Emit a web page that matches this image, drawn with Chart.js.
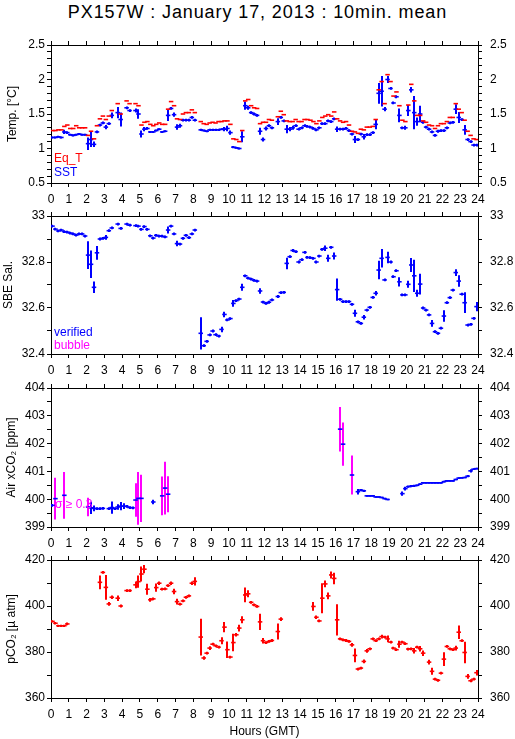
<!DOCTYPE html>
<html>
<head>
<meta charset="utf-8">
<script src="https://cdn.jsdelivr.net/npm/chart.js@4.4.1/dist/chart.umd.min.js"></script>
<style>
  body { margin: 0; background: #fff; }
  #wrap { position: relative; width: 515px; height: 739px; overflow: hidden; background: #fff; }
  #wrap canvas { position: absolute; left: 0; }
  #title {
    position: absolute; top: 0; left: 0; width: 515px; text-align: center;
    font: 18px "Liberation Sans", Arial, Helvetica, sans-serif;
    letter-spacing: 0.9px; line-height: 24px; color: #000;
  }
</style>
</head>
<body>
<div id="wrap">
  <div id="title">PX157W : January 17, 2013 : 10min. mean</div>
  <canvas id="pTemp"></canvas>
  <canvas id="pSal"></canvas>
  <canvas id="pAir"></canvas>
  <canvas id="pCo2"></canvas>
</div>
<script>
"use strict";

// 10-minute means, slot i covers minutes i*10 .. i*10+10 (144 slots per day)
var SLOT_MIN = 10;

var eqT = [
  1.26,1.26,1.27,1.27,1.32,1.34,1.29,1.29,1.33,1.30,1.30,1.30,
  1.19,1.25,1.14,1.33,1.43,1.47,1.42,1.47,1.55,null,1.65,1.50,
  null,1.69,1.65,null,1.65,1.62,1.34,1.38,1.39,1.35,1.33,1.35,
  1.37,1.35,1.35,1.57,1.68,1.62,1.43,1.42,1.50,1.52,1.52,1.56,
  1.52,null,1.39,1.36,1.35,1.37,1.38,1.37,1.39,1.39,1.40,1.40,
  1.35,1.14,1.13,1.10,1.26,1.69,1.71,1.62,1.59,1.58,1.36,1.38,
  1.38,1.42,1.41,null,1.46,1.54,1.49,1.40,1.39,1.39,1.42,1.39,
  1.39,1.42,1.42,1.41,1.39,1.36,1.40,1.45,1.47,1.49,1.47,1.53,
  1.43,1.40,1.38,1.39,1.34,1.25,1.24,1.22,1.28,1.27,1.31,1.31,
  1.32,1.42,1.85,1.97,1.65,2.07,1.97,1.76,1.82,1.62,1.41,1.39,
  1.63,1.93,1.69,1.48,1.48,1.40,1.38,1.34,1.33,1.29,1.33,1.36,
  1.36,1.39,1.45,1.45,1.65,1.57,1.52,1.41,1.25,1.19,1.14,1.13
];

var sst = [
  1.16,1.16,1.17,1.16,1.24,1.23,1.20,1.19,1.20,1.21,1.20,1.20,
  1.07,1.13,1.06,1.24,1.34,1.37,1.31,1.36,1.48,null,1.52,1.42,
  null,1.59,1.55,null,1.55,1.50,1.21,1.28,1.29,1.24,1.24,1.26,
  1.28,1.24,1.25,1.48,1.58,1.49,1.31,1.33,1.41,1.41,1.41,1.45,
  1.41,null,1.27,1.26,1.25,1.27,1.27,1.27,1.27,1.28,1.28,1.29,
  1.23,1.02,1.01,1.00,1.17,1.62,1.59,1.52,1.50,1.48,1.25,1.13,
  1.29,1.33,1.30,null,1.39,1.45,1.40,1.28,1.28,1.30,1.33,1.28,
  1.30,1.33,1.32,1.31,1.29,1.27,1.30,1.36,1.36,1.40,1.39,1.43,
  1.28,1.28,1.28,1.29,1.26,1.21,1.13,1.13,1.21,1.17,1.20,1.20,
  1.23,1.35,1.80,1.83,1.57,2.00,1.87,1.66,1.75,1.48,1.30,1.30,
  1.55,1.85,1.52,1.39,1.50,1.38,1.31,1.28,1.24,1.19,1.25,1.26,
  1.26,1.30,1.37,1.38,1.57,1.45,1.42,1.27,1.13,1.10,1.05,1.05
];

var sstSd = [
  .015,.015,.015,.015,.03,.02,.015,.015,.015,.015,.015,.015,
  .09,.11,.04,.02,.02,.02,.03,.02,.04,null,.08,.10,
  null,.02,.02,null,.03,.07,.05,.03,.02,.015,.015,.015,
  .015,.015,.015,.08,.02,.03,.04,.03,.02,.02,.02,.02,
  .02,null,.015,.015,.015,.015,.015,.015,.015,.015,.03,.04,
  .03,.015,.015,.015,.08,.06,.03,.02,.02,.02,.05,.03,
  .03,.02,.02,null,.05,.02,.02,.06,.03,.03,.02,.02,
  .02,.02,.02,.02,.02,.02,.02,.02,.02,.02,.02,.02,
  .04,.02,.02,.02,.02,.02,.05,.02,.02,.04,.02,.02,
  .02,.07,.15,.22,.03,.05,.02,.02,.02,.10,.02,.03,
  .08,.04,.24,.06,.12,.02,.02,.02,.02,.02,.02,.02,
  .02,.02,.02,.02,.07,.08,.02,.07,.02,.02,.02,.02
];

var sal = [
  32.956,32.943,32.935,32.939,32.932,32.930,32.926,32.922,32.917,32.922,32.922,32.913,
  32.830,32.790,32.690,32.840,32.900,32.903,32.907,32.936,32.948,null,32.965,32.946,
  null,32.965,32.960,null,32.958,32.956,32.942,32.954,32.942,32.914,32.904,32.916,
  32.913,32.912,32.909,32.939,32.956,32.922,32.880,32.878,32.903,32.916,32.906,32.922,
  32.939,null,32.490,32.436,32.455,32.483,32.500,32.484,32.478,32.507,32.572,32.548,
  32.554,32.620,32.632,32.639,32.690,32.740,32.730,32.726,32.720,32.717,32.674,32.626,
  32.620,32.625,32.635,null,32.650,32.667,32.668,32.794,32.823,32.850,32.845,32.800,
  32.810,32.842,32.820,32.819,32.816,32.800,32.826,32.855,32.860,32.816,32.864,32.826,
  32.680,32.638,32.628,32.628,32.628,32.616,32.577,32.540,32.533,32.560,32.591,32.603,
  32.646,32.664,32.765,32.816,32.722,32.820,32.800,32.736,32.762,32.714,32.657,32.657,
  32.703,32.787,32.740,32.664,32.704,32.600,32.591,32.570,32.533,32.497,32.490,32.512,
  32.565,32.623,32.645,32.678,32.754,32.717,32.660,32.623,32.526,32.529,32.555,32.606
];

var salSd = [
  .006,.006,.006,.006,.006,.006,.006,.006,.006,.006,.006,.006,
  .06,.06,.025,.03,.006,.006,.01,.006,.006,null,.006,.006,
  null,.006,.006,null,.006,.006,.006,.006,.006,.006,.006,.006,
  .006,.006,.006,.015,.006,.006,.012,.006,.006,.006,.006,.006,
  .006,null,.07,.006,.006,.006,.006,.006,.006,.012,.012,.006,
  .006,.015,.006,.006,.015,.006,.006,.006,.006,.006,.012,.006,
  .006,.006,.006,null,.006,.006,.006,.025,.006,.006,.006,.006,
  .006,.006,.006,.006,.006,.006,.006,.006,.012,.015,.006,.015,
  .048,.006,.006,.006,.006,.006,.015,.006,.006,.01,.006,.006,
  .006,.01,.04,.04,.006,.025,.006,.006,.006,.02,.006,.006,
  .015,.03,.07,.015,.045,.006,.006,.006,.015,.006,.006,.006,
  .025,.006,.006,.006,.015,.025,.006,.045,.006,.006,.006,.02
];

var airXco2 = [
  399.78,400.02,null,null,400.14,null,null,null,null,null,null,null,
  399.72,399.69,399.67,399.66,399.66,399.67,null,399.66,399.70,399.66,399.72,399.75,
  399.75,399.74,399.70,399.69,399.97,400.03,400.03,null,null,null,399.90,null,
  null,400.12,400.40,400.18,null,null,null,null,null,null,null,null,
  null,null,null,null,null,null,null,null,null,null,null,null,
  null,null,null,null,null,null,null,null,null,null,null,null,
  null,null,null,null,null,null,null,null,null,null,null,null,
  null,null,null,null,null,null,null,null,null,null,null,null,
  null,402.52,401.98,null,null,400.87,null,400.27,400.33,400.30,400.12,400.12,
  400.12,400.08,400.08,400.06,400.02,399.99,null,null,null,null,400.20,400.38,
  400.45,400.47,400.48,400.50,400.54,400.59,400.59,400.59,400.59,400.59,400.59,400.59,
  400.63,400.66,400.66,400.66,400.71,400.76,400.77,400.78,400.83,401.02,401.08,401.10
];

var airSd = [
  .05,.75,null,null,.84,null,null,null,null,null,null,null,
  .33,.22,.10,.05,.05,.05,null,.05,.22,.05,.10,.15,
  .10,.05,.05,.05,.60,.95,.85,null,null,null,.08,null,
  null,.70,.95,.65,null,null,null,null,null,null,null,null,
  null,null,null,null,null,null,null,null,null,null,null,null,
  null,null,null,null,null,null,null,null,null,null,null,null,
  null,null,null,null,null,null,null,null,null,null,null,null,
  null,null,null,null,null,null,null,null,null,null,null,null,
  null,.80,.78,null,null,.70,null,.10,.04,.04,.03,.03,
  .03,.03,.03,.03,.03,.03,null,null,null,null,.08,.07,
  .04,.04,.04,.03,.03,.03,.03,.03,.03,.03,.03,.03,
  .03,.03,.03,.03,.03,.03,.03,.03,.04,.06,.03,.03
];

var pco2 = [
  393.3,392.5,391.4,391.4,391.4,392.2,null,null,null,null,null,null,
  null,null,null,null,410.3,414.6,408.1,400.9,403.8,null,403.4,400.0,
  null,406.7,406.7,null,409.2,410.6,413.9,416.0,407.3,402.7,403.1,408.0,
  409.9,407.3,407.4,408.9,409.9,406.3,401.9,400.8,402.2,403.8,404.4,409.9,
  410.7,null,386.5,377.4,379.5,381.7,383.4,382.7,382.1,384.9,390.8,381.0,
  377.8,384.1,387.5,390.4,394.0,404.8,405.3,401.6,400.5,399.8,393.1,384.9,
  384.1,384.6,385.0,null,388.9,394.3,null,null,null,null,null,null,
  null,null,null,null,399.8,395.1,393.5,403.4,409.6,404.4,413.5,412.0,
  394.0,385.7,385.3,385.0,384.6,383.1,378.5,372.6,373.0,375.9,380.5,381.4,
  385.7,384.9,385.7,386.7,386.5,385.7,384.3,381.7,381.0,383.4,384.3,383.6,
  381.3,381.4,380.5,382.1,381.4,379.5,null,375.6,371.6,368.2,367.7,370.8,
  376.9,382.4,381.4,381.0,381.7,388.6,384.9,379.8,369.4,367.5,368.2,371.0
];

var pco2Sd = [
  .5,.5,.5,.5,.5,.6,null,null,null,null,null,null,
  null,null,null,null,3.0,.6,5.4,.8,.8,null,1.2,.6,
  null,.6,.6,null,1.5,2.7,3.3,1.8,2.4,.8,.6,1.8,
  .8,.6,.6,.6,.8,1.2,1.2,.6,.6,.6,.6,.8,
  1.8,null,8.0,.8,.6,.8,.6,.6,.6,1.5,2.2,3.6,
  .6,3.8,.8,1.5,1.5,3.2,1.5,.6,.6,.6,3.5,1.2,
  .6,.6,.6,null,3.5,.8,null,null,null,null,null,null,
  null,null,null,null,1.9,.8,.6,6.5,1.5,1.5,1.5,2.5,
  6.8,.6,.6,.6,.6,.8,3.0,.6,.6,.8,.8,.6,
  .6,.6,.6,.8,.6,1.5,.6,.6,.6,1.5,.6,.6,
  .6,.6,1.2,.6,1.2,1.2,null,1.0,1.5,.6,.6,.6,
  3.0,.6,.6,.6,1.0,2.9,.6,4.7,1.0,.6,.6,1.2
];

var BLUE = '#0000ff', RED = '#ff0000', MAGENTA = '#ff00ff';
var SIGMA_FLAG = 0.3;

Chart.defaults.font.family = '"Liberation Sans", Arial, Helvetica, sans-serif';
Chart.defaults.font.size = 12;
Chart.defaults.color = '#000';

function toPoints(values) {
  var pts = [];
  for (var i = 0; i < values.length; i++) {
    if (values[i] !== null) pts.push({ x: (i + 0.5) * SLOT_MIN / 60, y: values[i], i: i });
  }
  return pts;
}

// vertical std-dev bars, drawn under the horizontal dashes
var errorBars = {
  id: 'errorBars',
  beforeDatasetsDraw: function (chart) {
    var ctx = chart.ctx, a = chart.chartArea;
    var xs = chart.scales.x, ys = chart.scales.y;
    ctx.save();
    ctx.beginPath();
    ctx.rect(a.left, a.top, a.right - a.left, a.bottom - a.top);
    ctx.clip();
    ctx.lineWidth = 2;
    chart.data.datasets.forEach(function (ds) {
      if (!ds.sd) return;
      ds.data.forEach(function (p) {
        var s = ds.sd[p.i];
        if (s === null || s === undefined) return;
        var px = Math.round(xs.getPixelForValue(p.x));
        ctx.strokeStyle = (ds.flagColor && s >= SIGMA_FLAG) ? ds.flagColor : ds.borderColor;
        ctx.beginPath();
        ctx.moveTo(px, ys.getPixelForValue(p.y - s));
        ctx.lineTo(px, ys.getPixelForValue(p.y + s));
        ctx.stroke();
      });
    });
    ctx.restore();
  }
};

// small coloured labels inside the plot (Eq_T / SST etc.)
var notes = {
  id: 'notes',
  afterDraw: function (chart, args, opts) {
    if (!opts.items) return;
    var ctx = chart.ctx, a = chart.chartArea;
    ctx.save();
    ctx.font = '12px "Liberation Sans", Arial, sans-serif';
    ctx.textAlign = 'left';
    ctx.textBaseline = 'alphabetic';
    opts.items.forEach(function (n) {
      ctx.fillStyle = n.color;
      ctx.fillText(n.text, a.left + n.dx, a.bottom - n.dy);
    });
    ctx.restore();
  }
};

function onlyEvery(step) {
  return function (v) {
    var r = v / step;
    return Math.abs(r - Math.round(r)) < 1e-6 ? String(+v.toFixed(2)) : '';
  };
}

function xAxis(pos, h, labels, title) {
  return {
    type: 'linear', position: pos, min: 0, max: 24,
    border: { display: true, color: '#000', width: 1 },
    grid: { drawOnChartArea: false, drawTicks: true, tickLength: 4, color: '#000', lineWidth: 1 },
    ticks: { display: labels, stepSize: 1, autoSkip: false, maxRotation: 0, minRotation: 0, padding: 5, color: '#000' },
    title: title ? { display: true, text: title, color: '#000', padding: { top: 0, bottom: 0 }, font: { size: 12 } } : { display: false },
    afterFit: function (s) { s.height = h; }
  };
}

function yAxis(pos, w, min, max, step, labelStep, title, titlePad) {
  return {
    type: 'linear', position: pos, min: min, max: max,
    border: { display: true, color: '#000', width: 1 },
    grid: { drawOnChartArea: false, drawTicks: true, tickLength: 4, color: '#000', lineWidth: 1 },
    ticks: { stepSize: step, autoSkip: false, padding: pos === 'left' ? 2 : 8, color: '#000', callback: onlyEvery(labelStep) },
    title: title ? { display: true, text: title, color: '#000', padding: { top: titlePad, bottom: 0 }, font: { size: 12 } } : { display: false },
    afterFit: function (s) { s.width = w; }
  };
}

function dashSet(values, color, sd, flagColor) {
  return {
    data: toPoints(values),
    sd: sd || null,
    flagColor: flagColor || null,
    showLine: false,
    pointStyle: 'line',
    pointRadius: 2.25,
    pointHoverRadius: 2.25,
    pointBorderWidth: 1.6,
    borderColor: color,
    backgroundColor: color
  };
}

function panel(id, plotTop, plotHeight, bottomH, datasets, y, noteItems, xTitle) {
  var top = 16;
  var cv = document.getElementById(id);
  cv.width = 515;
  cv.height = top + plotHeight + bottomH;
  cv.style.top = (plotTop - top) + 'px';
  return new Chart(cv, {
    type: 'scatter',
    data: { datasets: datasets },
    options: {
      responsive: false,
      animation: false,
      events: [],
      layout: { padding: 0 },
      plugins: { legend: { display: false }, tooltip: { enabled: false }, notes: { items: noteItems } },
      scales: {
        x: xAxis('bottom', bottomH, true, xTitle),
        x2: xAxis('top', top, false, null),
        y: yAxis('left', 51, y.min, y.max, y.step, y.label, y.title, y.pad),
        y2: yAxis('right', 37, y.min, y.max, y.step, y.label, null, 0)
      }
    },
    plugins: [errorBars, notes]
  });
}

panel('pTemp', 45, 138, 24,
  [dashSet(eqT, RED), dashSet(sst, BLUE, sstSd)],
  { min: 0.5, max: 2.5, step: 0.1, label: 0.5, title: 'Temp. [°C]', pad: 5 },
  [{ text: 'Eq_T', color: RED, dx: 3, dy: 21 }, { text: 'SST', color: BLUE, dx: 3, dy: 7 }]);

panel('pSal', 216, 138, 24,
  [dashSet(sal, BLUE, salSd)],
  { min: 32.4, max: 33, step: 0.1, label: 0.2, title: 'SBE Sal.', pad: 1 },
  [{ text: 'verified', color: BLUE, dx: 3, dy: 18 }, { text: 'bubble', color: MAGENTA, dx: 3, dy: 5 }]);

panel('pAir', 388, 139, 24,
  [dashSet(airXco2, BLUE, airSd, MAGENTA)],
  { min: 399, max: 404, step: 0.5, label: 1, title: 'Air xCO₂ [ppm]', pad: 4 },
  [{ text: 'σ ≥ 0.3', color: MAGENTA, dx: 4, dy: 19 }]);

panel('pCo2', 560, 138, 41,
  [dashSet(pco2, RED, pco2Sd)],
  { min: 360, max: 420, step: 10, label: 20, title: 'pCO₂ [µ atm]', pad: 4 },
  [], 'Hours (GMT)');
</script>
</body>
</html>
